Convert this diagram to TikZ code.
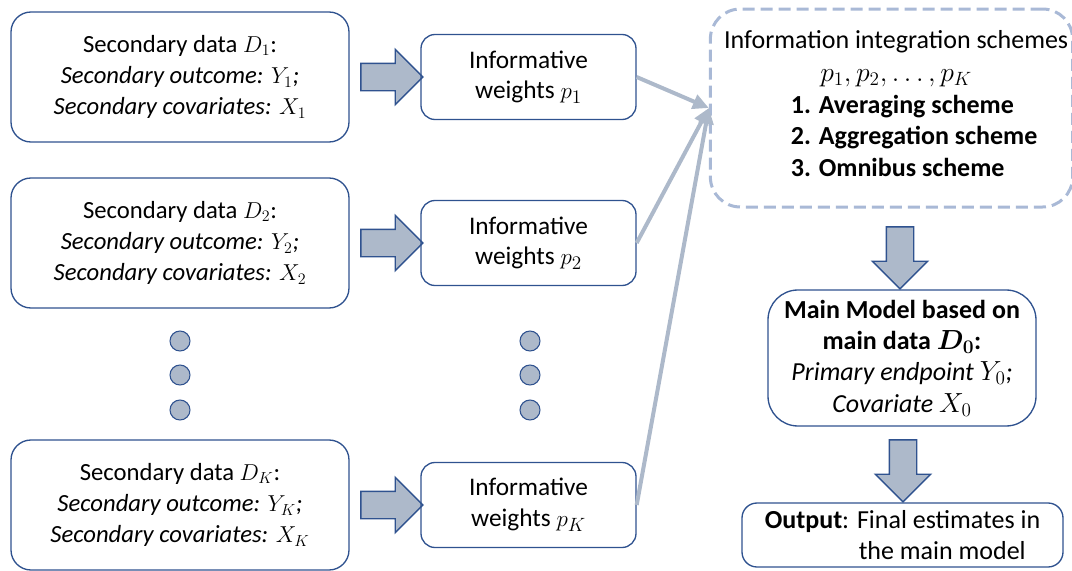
\documentclass[tikz,border=0pt]{standalone}
\usepackage{fontspec}
\setmainfont{Carlito}
\usepackage{amsmath}
\usepackage{bm}
\usetikzlibrary{shapes.arrows, arrows.meta, positioning}
\definecolor{boxblue}{HTML}{2F528F}
\definecolor{bluegray}{HTML}{ADB9CA}
\definecolor{dashblue}{HTML}{A9B9D6}

\tikzset{
    txt/.style={font=\fontsize{19.5}{23.5}\selectfont, align=center, text=black},
    databox/.style={txt, font=\fontsize{18.5}{23.5}\selectfont, draw=boxblue,
        line width=1pt, rounded corners=15pt,
        minimum width=253.5pt, minimum height=97.5pt},
    weightbox/.style={txt, font=\fontsize{19}{23}\selectfont, draw=boxblue,
        line width=1pt, rounded corners=10.5pt,
        minimum width=161.25pt, minimum height=63.75pt},
    blockarrow/.style={single arrow, draw=boxblue, fill=bluegray, line width=1pt,
        inner xsep=0pt, inner ysep=9.75pt, minimum height=46.5pt,
        single arrow head extend=10.5pt, single arrow tip angle=90},
    dot/.style={circle, draw=boxblue, fill=bluegray, line width=0.8pt,
        inner sep=0pt, minimum size=15pt},
    link/.style={draw=bluegray, line width=3pt,
        -{Triangle[length=12pt, width=11pt]}}
}

\begin{document}
\begin{tikzpicture}[x=0.75pt, y=-0.75pt]
    \useasboundingbox (0,0) rectangle (1072,571);
    
    \foreach \y/\k in {77/1, 243/2, 505/K} {
        \node[databox] (src\k) at (180,\y)
            {Secondary data $D_{\k}$:\\
             \textit{Secondary outcome: $Y_{\k}$;}\\
             \textit{Secondary covariates: $X_{\k}$}};
        \node[blockarrow] (ar\k) at (385,\y) {};
        \node[weightbox] (wt\k) at (528.5,\y) {Informative\\ weights $p_{\k}$};
    }
    
    % vertical dots between the rows
    \foreach \x in {180, 530}
        \foreach \y in {341, 375, 410}
            \node[dot] (dot\x-\y) at (\x,\y) {};
    
    \node[txt, draw=dashblue, line width=2.25pt, dash pattern=on 9pt off 4.5pt,
        rounded corners=22.5pt, minimum width=267.75pt, minimum height=148.5pt]
        (info) at (891.5,108)
        {\hspace*{7pt}Information integration schemes\\[1pt]
         \hspace*{7pt}$p_1, p_2,\ldots, p_K$\\[3pt]
         \hspace*{34pt}\textbf{\begin{tabular}{@{}l@{}}
            1. Averaging scheme\\ 2. Aggregation scheme\\ 3. Omnibus scheme
         \end{tabular}}};
    
    \foreach \k in {1, 2, K}
        \draw[link] (wt\k.east) -- (info.west);
    
    \node[blockarrow, rotate=-90] (dn1) at (900,251) {};
    
    \node[txt, draw=boxblue, line width=1pt, rounded corners=22.5pt,
        minimum width=201pt, minimum height=102pt] (main) at (902,358)
        {\textbf{Main Model based on}\\
         \textbf{main data $\bm{D_0}$:}\\
         \textit{Primary endpoint $Y_0$;}\\
         \textit{Covariate $X_0$}};
    
    \node[blockarrow, rotate=-90] (dn2) at (903,464) {};
    
    \node[txt, align=left, draw=boxblue, line width=1pt, rounded corners=11.25pt,
        minimum width=240.75pt, minimum height=48pt] (out) at (902.5,535)
        {\textbf{Output}: Final estimates in\\
         \hspace*{70.5pt}the main model};
    
\end{tikzpicture}
\end{document}
